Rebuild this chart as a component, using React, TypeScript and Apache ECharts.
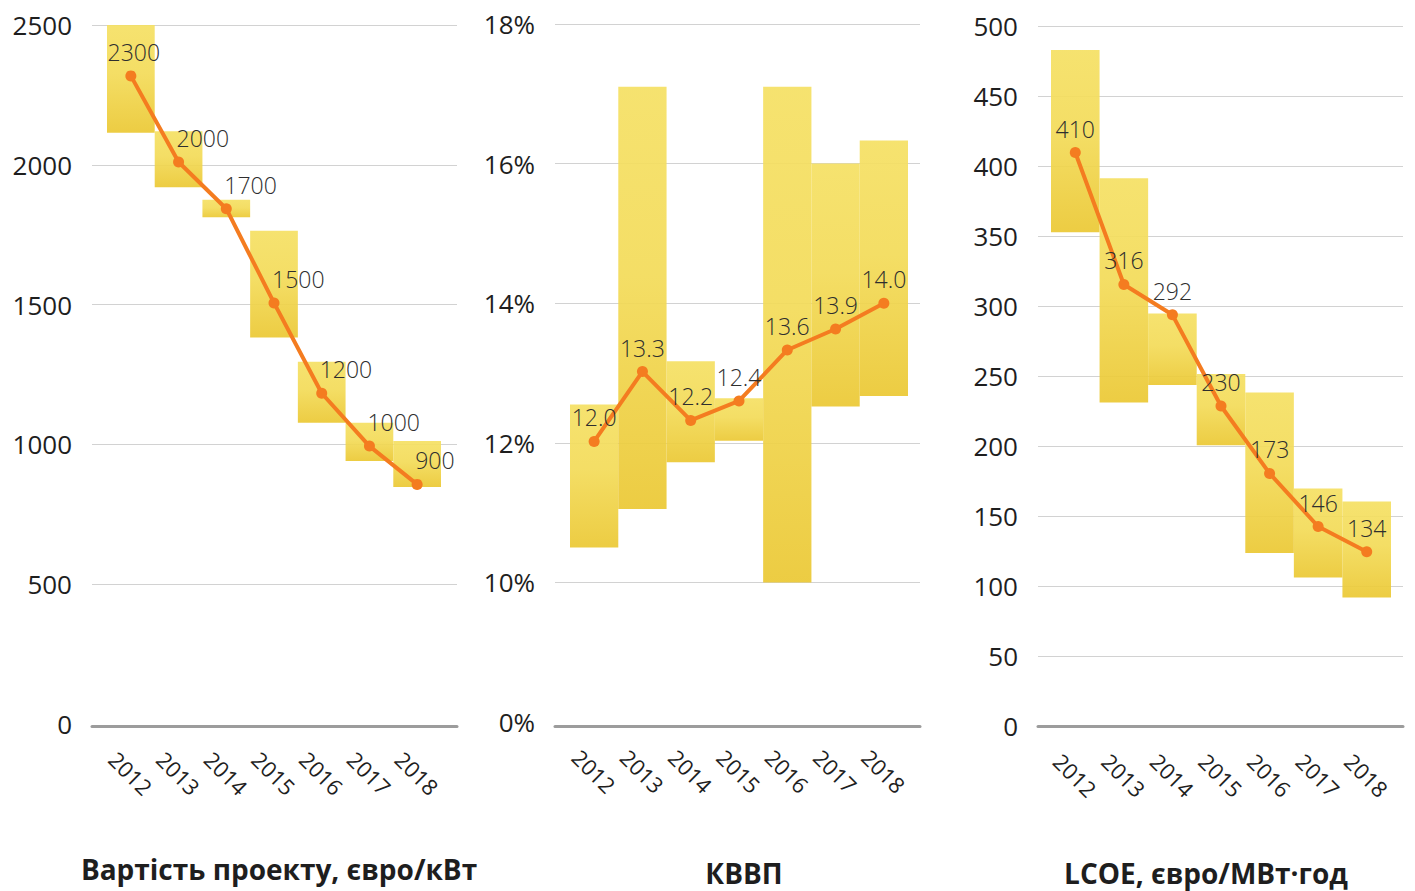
import React, { useEffect, useRef } from "react";
import * as echarts from "echarts";

// ---------- data ----------
const years = ["2012", "2013", "2014", "2015", "2016", "2017", "2018"];

// Panel 1: project cost, euro/kW
const costLow = [2115, 1920, 1812, 1382, 1077, 941, 848];
const costHigh = [2500, 2120, 1875, 1764, 1296, 1077, 1012];
const costLine = [2318, 2010, 1843, 1506, 1183, 994, 857];
const costLabels = ["2300", "2000", "1700", "1500", "1200", "1000", "900"];

// Panel 2: IRR, %
const irrLow = [10.5, 11.05, 11.72, 12.03, 10.0, 12.52, 12.67];
const irrHigh = [12.55, 17.1, 13.17, 12.64, 17.1, 16.0, 16.33];
const irrLine = [12.02, 13.02, 12.32, 12.6, 13.33, 13.63, 14.0];
const irrLabels = ["12.0", "13.3", "12.2", "12.4", "13.6", "13.9", "14.0"];
const irrTicks = ["0%", "10%", "12%", "14%", "16%", "18%"];

// Panel 3: LCOE, euro/MWh
const lcoeLow = [352.7, 231, 243.5, 200.5, 123.5, 106, 91.7];
const lcoeHigh = [482.8, 391.2, 294.7, 251.5, 238.3, 169.6, 160.3];
const lcoeLine = [409.6, 315.4, 293.7, 228.6, 180.4, 142.5, 124.5];
const lcoeLabels = ["410", "316", "292", "230", "173", "146", "134"];

const titles = ["Вартість проекту, євро/кВт", "КВВП", "LCOE, євро/МВт·год"];

// broken IRR axis: 0–10% takes one band, then 2% per band
const irrScale = (v: number) => (v < 10 ? v / 10 : 1 + (v - 10) / 2);

const FONT = "'Open Sans', 'Noto Sans', sans-serif";
const ORANGE = "#F47C20";

const barGradient = () =>
  new echarts.graphic.LinearGradient(0, 0, 0, 1, [
    { offset: 0, color: "#F5E063" },
    { offset: 0.45, color: "#F3DB58" },
    { offset: 1, color: "#EBC833" },
  ]);

type PanelCfg = {
  bg: { left: number; width: number; top: number; height: number };
  data: { left: number; width: number };
  max: number;
  interval: number;
  axisOffset: number;
  yFormatter: (v: number) => string;
  low: number[];
  high: number[];
  line: number[];
  labels: string[];
  labelMode: "left" | "center";
};

function buildPanel(idx: number, c: PanelCfg) {
  const bgI = idx * 2;
  const dI = idx * 2 + 1;
  const grids = [
    { left: c.bg.left, width: c.bg.width, top: c.bg.top, height: c.bg.height },
    { left: c.data.left, width: c.data.width, top: c.bg.top, height: c.bg.height },
  ];
  const xAxes = [
    {
      gridIndex: bgI,
      type: "category",
      data: years,
      offset: c.axisOffset,
      axisLine: { show: true, onZero: false, lineStyle: { color: "#9c9c9c", width: 3 } },
      axisTick: { show: false },
      axisLabel: { show: false },
    },
    {
      gridIndex: dI,
      type: "category",
      data: years,
      axisLine: { show: false },
      axisTick: { show: false },
      axisLabel: {
        rotate: -45,
        align: "center",
        verticalAlign: "middle",
        margin: 49,
        fontSize: 22,
        color: "#1e1e1e",
        fontFamily: FONT,
      },
    },
  ];
  const yAxes = [
    {
      gridIndex: bgI,
      type: "value",
      min: 0,
      max: c.max,
      interval: c.interval,
      axisLine: { show: false },
      axisTick: { show: false },
      axisLabel: {
        formatter: c.yFormatter,
        fontSize: 26,
        color: "#1e1e1e",
        fontFamily: FONT,
        margin: 20,
      },
      splitLine: { showMinLine: false, lineStyle: { color: "#d2d2d2", width: 1 } },
    },
    {
      gridIndex: dI,
      type: "value",
      min: 0,
      max: c.max,
      interval: c.interval,
      show: false,
      splitLine: { show: false },
    },
  ];
  const series = [
    {
      type: "bar",
      xAxisIndex: dI,
      yAxisIndex: dI,
      stack: "s" + idx,
      data: c.low,
      barWidth: "100%",
      barCategoryGap: "0%",
      itemStyle: { color: "transparent" },
      silent: true,
    },
    {
      type: "bar",
      xAxisIndex: dI,
      yAxisIndex: dI,
      stack: "s" + idx,
      data: c.high.map((h, i) => h - c.low[i]),
      barWidth: "100%",
      barCategoryGap: "0%",
      itemStyle: { color: barGradient(), opacity: 0.92 },
    },
    {
      type: "line",
      xAxisIndex: dI,
      yAxisIndex: dI,
      z: 5,
      data: c.line.map((v, i) => {
        const item: any = { value: v };
        if (c.labelMode === "left" && i === 0) {
          item.label = { align: "center", offset: [3, 0] };
        }
        return item;
      }),
      symbol: "circle",
      symbolSize: 11,
      lineStyle: { color: ORANGE, width: 4 },
      itemStyle: { color: ORANGE },
      label: {
        show: true,
        position: "top",
        distance: 7,
        align: c.labelMode === "left" ? "left" : "center",
        offset: c.labelMode === "left" ? [-2, 0] : [0, 0],
        formatter: (p: any) => c.labels[p.dataIndex],
        fontSize: 23,
        fontWeight: 300,
        color: "#2e2e2e",
        fontFamily: FONT,
      },
    },
  ];
  return { grids, xAxes, yAxes, series };
}

export default function App() {
  const ref = useRef<HTMLDivElement>(null);

  useEffect(() => {
    if (!ref.current) return;
    const chart = echarts.init(ref.current, undefined, { renderer: "svg" });

    const p1 = buildPanel(0, {
      bg: { left: 92, width: 365, top: 25, height: 699 },
      data: { left: 107, width: 334 },
      max: 2500,
      interval: 500,
      axisOffset: 2,
      yFormatter: (v) => String(v),
      low: costLow,
      high: costHigh,
      line: costLine,
      labels: costLabels,
      labelMode: "left",
    });
    const p2 = buildPanel(1, {
      bg: { left: 555, width: 365, top: 24, height: 698 },
      data: { left: 570, width: 338 },
      max: 5,
      interval: 1,
      axisOffset: 4,
      yFormatter: (v) => irrTicks[Math.round(v)] ?? "",
      low: irrLow.map(irrScale),
      high: irrHigh.map(irrScale),
      line: irrLine.map(irrScale),
      labels: irrLabels,
      labelMode: "center",
    });
    const p3 = buildPanel(2, {
      bg: { left: 1038, width: 365, top: 26, height: 700 },
      data: { left: 1051, width: 340 },
      max: 500,
      interval: 50,
      axisOffset: 0,
      yFormatter: (v) => String(v),
      low: lcoeLow,
      high: lcoeHigh,
      line: lcoeLine,
      labels: lcoeLabels,
      labelMode: "center",
    });

    const titleX = [279, 744, 1206];
    const titleY = [869, 873, 873];

    chart.setOption({
      animation: false,
      backgroundColor: "#ffffff",
      grid: [...p1.grids, ...p2.grids, ...p3.grids],
      xAxis: [...p1.xAxes, ...p2.xAxes, ...p3.xAxes],
      yAxis: [...p1.yAxes, ...p2.yAxes, ...p3.yAxes],
      series: [...p1.series, ...p2.series, ...p3.series],
      graphic: titles.map((t, i) => ({
        type: "text",
        x: titleX[i],
        y: titleY[i],
        style: {
          text: t,
          align: "center",
          verticalAlign: "middle",
          fontSize: 28,
          fontWeight: "bold",
          fontFamily: FONT,
          fill: "#1e1e1e",
        },
      })),
    });

    return () => chart.dispose();
  }, []);

  return (
    <div
      ref={ref}
      style={{ position: "fixed", left: 0, top: 0, width: 1415, height: 891 }}
    />
  );
}
